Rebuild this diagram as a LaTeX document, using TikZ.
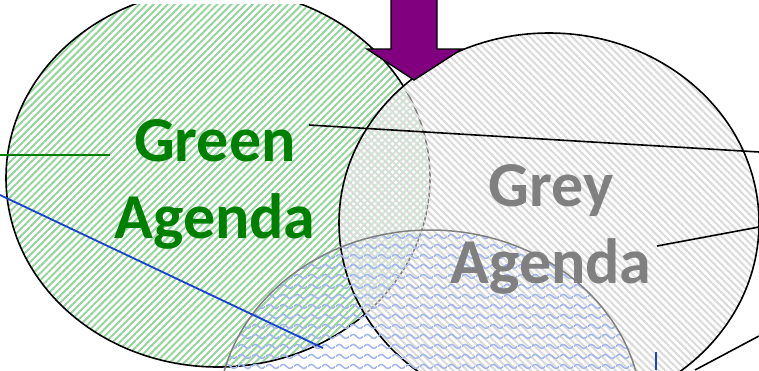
\documentclass[tikz,border=0pt]{standalone}
\usepackage{fontspec}
\setmainfont{Carlito}
\usetikzlibrary{patterns.meta}
\definecolor{gstripe}{RGB}{150,212,158}
\definecolor{greystripe}{RGB}{218,218,218}
\definecolor{wavecol}{RGB}{160,180,238}
\definecolor{greentxt}{RGB}{0,128,0}
\definecolor{greytxt}{RGB}{128,128,128}
\definecolor{arrowpurple}{RGB}{128,0,128}
\definecolor{bluelink}{RGB}{25,65,210}
\tikzdeclarepattern{
  name=wavylines,
  type=uncolored,
  bounding box={(0pt,0pt) and (14pt,10pt)},
  tile size={(14pt,10pt)},
  code={
    \draw[line width=1.6pt] (0pt,5pt) sin (3.5pt,7.2pt) cos (7pt,5pt) sin (10.5pt,2.8pt) cos (14pt,5pt);
  }
}
\tikzset{
  setcircle/.style={line width=1.6pt},
  labeltext/.style={font=\bfseries\fontsize{64}{77}\selectfont, align=center, inner sep=0pt},
  blackline/.style={line width=1.6pt, black},
}
\begin{document}
\begin{tikzpicture}[x=1pt,y=-1pt]
\useasboundingbox (0,0) rectangle (759,370);
\fill[white] (0,0) rectangle (759,370);
% green set
\begin{scope}
  \clip (0,4.5) rectangle (759,370);
  \draw[setcircle, preaction={fill=white}, pattern={Lines[angle=45,distance=5pt,line width=2pt]}, pattern color=gstripe]
    (218,178) ellipse [x radius=212, y radius=189];
\end{scope}
% grey set
\draw[setcircle, preaction={fill=white, fill opacity=0.5}, pattern={Lines[angle=-45,distance=5pt,line width=2pt]}, pattern color=greystripe]
  (549,223) ellipse [x radius=210, y radius=190];
% blue set
\draw[line width=1.5pt, greytxt, pattern=wavylines, pattern color=wavecol]
  (430,416) ellipse [x radius=212, y radius=186];
% arrow
\draw[fill=arrowpurple, line width=1.4pt, line join=miter]
  (391,-3) -- (391,49) -- (367,49) -- (414,80) -- (462,49) -- (437,49) -- (437,-3) -- cycle;
% label nodes
\node[labeltext, text=greentxt] (green) at (215,184) {Green\\Agenda};
\node[labeltext, text=greytxt] (grey) at (551,229) {Grey\\Agenda};
% connector ends
\coordinate (gl1) at (0,155);
\coordinate (gl2) at (110,155);
\coordinate (bk1a) at (309,125);
\coordinate (bk1b) at (759,152);
\coordinate (bk2a) at (657,246);
\coordinate (bk2b) at (759,227);
\coordinate (bk3a) at (695,370);
\coordinate (bk3b) at (759,336);
\coordinate (bl1a) at (0,195);
\coordinate (bl1b) at (323,348);
\coordinate (bl2a) at (656,352);
\coordinate (bl2b) at (656,370);
% connectors
\draw[greentxt, line width=1.4pt] (gl1) -- (gl2);
\draw[blackline] (bk1a) -- (bk1b);
\draw[blackline] (bk2a) -- (bk2b);
\draw[blackline] (bk3a) -- (bk3b);
\draw[bluelink, line width=1.8pt] (bl1a) -- (bl1b);
\draw[bluelink, line width=1.8pt] (bl2a) -- (bl2b);
\end{tikzpicture}
\end{document}
